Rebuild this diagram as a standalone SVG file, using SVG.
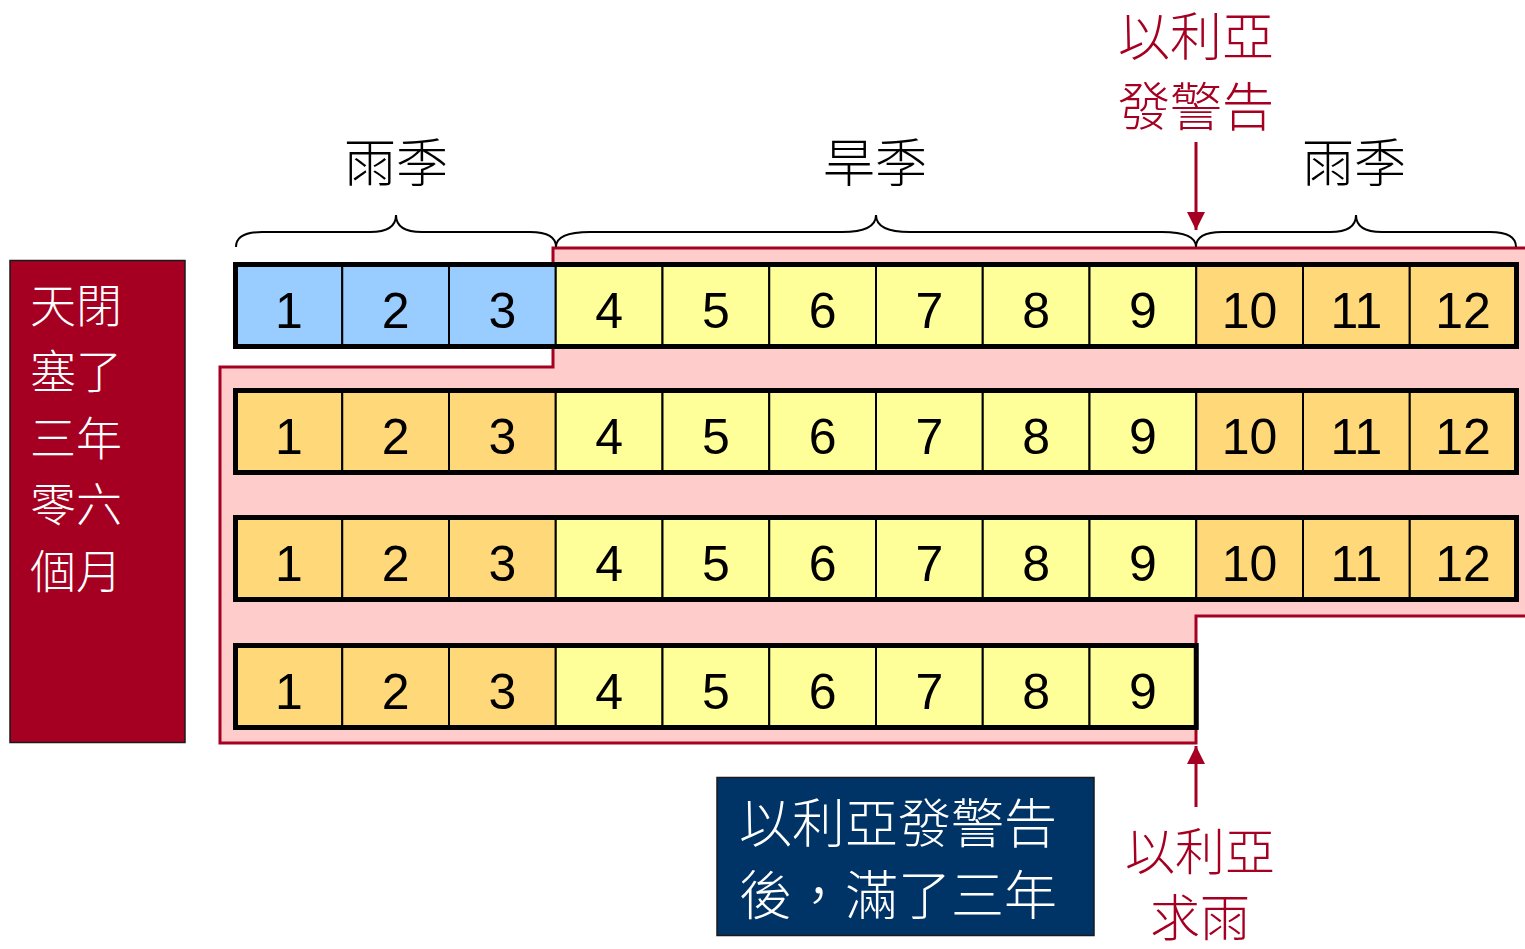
<svg xmlns="http://www.w3.org/2000/svg" width="1525" height="949" viewBox="0 0 1525 949">
<style>
.cjk{font-family:"Noto Sans CJK TC","Noto Sans CJK SC",sans-serif;font-weight:300}
.num{font-family:"Liberation Sans","DejaVu Sans",sans-serif;font-size:50px;fill:#000;text-anchor:middle}
.b{fill:#99CCFF;stroke:#000;stroke-width:2}
.y{fill:#FFFF99;stroke:#000;stroke-width:2}
.o{fill:#FFD87A;stroke:#000;stroke-width:2}
.frame{fill:none;stroke:#000;stroke-width:5}
.brace{fill:none;stroke:#000;stroke-width:2}
.red{fill:#A50021}
.arr{stroke:#A50021;stroke-width:3;fill:none}
</style>
<defs>
<marker id="ah" viewBox="0 0 10 10" refX="10" refY="5" markerWidth="6" markerHeight="6" markerUnits="strokeWidth" orient="auto">
<path d="M0,0 L10,5 L0,10 Z" fill="#A50021"/>
</marker>
</defs>
<rect width="1525" height="949" fill="#fff"/>

<g id="period">
<path d="M553,248 L1528,248 L1528,616 L1196,616 L1196,743 L220,743 L220,367 L553,367 Z" fill="#FFCCCC" stroke="#A50021" stroke-width="3"/>
</g>

<g id="braces">
<path class="brace" d="M236,247 Q236,232 262,232 L370,232 Q396,232 396,215 Q396,232 422,232 L530,232 Q556,232 556,247"/>
<path class="brace" d="M556,247 Q556,232 590,232 L842,232 Q876,232 876,215 Q876,232 910,232 L1162,232 Q1196,232 1196,247"/>
<path class="brace" d="M1196,247 Q1196,232 1222,232 L1330,232 Q1356,232 1356,215 Q1356,232 1382,232 L1490,232 Q1516,232 1516,247"/>
</g>

<g id="labels-top">
<text class="cjk" x="396" y="182" font-size="52" text-anchor="middle">雨季</text>
<text class="cjk" x="875" y="182" font-size="52" text-anchor="middle">旱季</text>
<text class="cjk" x="1354" y="182" font-size="52" text-anchor="middle">雨季</text>
</g>

<g id="row1">
<g id="r1c1"><rect class="b" x="235.5" y="264.5" width="106.75" height="82"/><text class="num" x="288.9" y="328">1</text></g>
<g id="r1c2"><rect class="b" x="342.25" y="264.5" width="106.75" height="82"/><text class="num" x="395.6" y="328">2</text></g>
<g id="r1c3"><rect class="b" x="449" y="264.5" width="106.75" height="82"/><text class="num" x="502.4" y="328">3</text></g>
<g id="r1c4"><rect class="y" x="555.75" y="264.5" width="106.75" height="82"/><text class="num" x="609.1" y="328">4</text></g>
<g id="r1c5"><rect class="y" x="662.5" y="264.5" width="106.75" height="82"/><text class="num" x="715.9" y="328">5</text></g>
<g id="r1c6"><rect class="y" x="769.25" y="264.5" width="106.75" height="82"/><text class="num" x="822.6" y="328">6</text></g>
<g id="r1c7"><rect class="y" x="876" y="264.5" width="106.75" height="82"/><text class="num" x="929.4" y="328">7</text></g>
<g id="r1c8"><rect class="y" x="982.75" y="264.5" width="106.75" height="82"/><text class="num" x="1036.1" y="328">8</text></g>
<g id="r1c9"><rect class="y" x="1089.5" y="264.5" width="106.75" height="82"/><text class="num" x="1142.9" y="328">9</text></g>
<g id="r1c10"><rect class="o" x="1196.25" y="264.5" width="106.75" height="82"/><text class="num" x="1249.6" y="328">10</text></g>
<g id="r1c11"><rect class="o" x="1303" y="264.5" width="106.75" height="82"/><text class="num" x="1356.4" y="328">11</text></g>
<g id="r1c12"><rect class="o" x="1409.75" y="264.5" width="106.75" height="82"/><text class="num" x="1463.1" y="328">12</text></g>
<rect class="frame" x="235.5" y="264.5" width="1281" height="82"/>
</g>

<g id="row2">
<g id="r2c1"><rect class="o" x="235.5" y="390.5" width="106.75" height="82"/><text class="num" x="288.9" y="454">1</text></g>
<g id="r2c2"><rect class="o" x="342.25" y="390.5" width="106.75" height="82"/><text class="num" x="395.6" y="454">2</text></g>
<g id="r2c3"><rect class="o" x="449" y="390.5" width="106.75" height="82"/><text class="num" x="502.4" y="454">3</text></g>
<g id="r2c4"><rect class="y" x="555.75" y="390.5" width="106.75" height="82"/><text class="num" x="609.1" y="454">4</text></g>
<g id="r2c5"><rect class="y" x="662.5" y="390.5" width="106.75" height="82"/><text class="num" x="715.9" y="454">5</text></g>
<g id="r2c6"><rect class="y" x="769.25" y="390.5" width="106.75" height="82"/><text class="num" x="822.6" y="454">6</text></g>
<g id="r2c7"><rect class="y" x="876" y="390.5" width="106.75" height="82"/><text class="num" x="929.4" y="454">7</text></g>
<g id="r2c8"><rect class="y" x="982.75" y="390.5" width="106.75" height="82"/><text class="num" x="1036.1" y="454">8</text></g>
<g id="r2c9"><rect class="y" x="1089.5" y="390.5" width="106.75" height="82"/><text class="num" x="1142.9" y="454">9</text></g>
<g id="r2c10"><rect class="o" x="1196.25" y="390.5" width="106.75" height="82"/><text class="num" x="1249.6" y="454">10</text></g>
<g id="r2c11"><rect class="o" x="1303" y="390.5" width="106.75" height="82"/><text class="num" x="1356.4" y="454">11</text></g>
<g id="r2c12"><rect class="o" x="1409.75" y="390.5" width="106.75" height="82"/><text class="num" x="1463.1" y="454">12</text></g>
<rect class="frame" x="235.5" y="390.5" width="1281" height="82"/>
</g>

<g id="row3">
<g id="r3c1"><rect class="o" x="235.5" y="517.5" width="106.75" height="82"/><text class="num" x="288.9" y="581">1</text></g>
<g id="r3c2"><rect class="o" x="342.25" y="517.5" width="106.75" height="82"/><text class="num" x="395.6" y="581">2</text></g>
<g id="r3c3"><rect class="o" x="449" y="517.5" width="106.75" height="82"/><text class="num" x="502.4" y="581">3</text></g>
<g id="r3c4"><rect class="y" x="555.75" y="517.5" width="106.75" height="82"/><text class="num" x="609.1" y="581">4</text></g>
<g id="r3c5"><rect class="y" x="662.5" y="517.5" width="106.75" height="82"/><text class="num" x="715.9" y="581">5</text></g>
<g id="r3c6"><rect class="y" x="769.25" y="517.5" width="106.75" height="82"/><text class="num" x="822.6" y="581">6</text></g>
<g id="r3c7"><rect class="y" x="876" y="517.5" width="106.75" height="82"/><text class="num" x="929.4" y="581">7</text></g>
<g id="r3c8"><rect class="y" x="982.75" y="517.5" width="106.75" height="82"/><text class="num" x="1036.1" y="581">8</text></g>
<g id="r3c9"><rect class="y" x="1089.5" y="517.5" width="106.75" height="82"/><text class="num" x="1142.9" y="581">9</text></g>
<g id="r3c10"><rect class="o" x="1196.25" y="517.5" width="106.75" height="82"/><text class="num" x="1249.6" y="581">10</text></g>
<g id="r3c11"><rect class="o" x="1303" y="517.5" width="106.75" height="82"/><text class="num" x="1356.4" y="581">11</text></g>
<g id="r3c12"><rect class="o" x="1409.75" y="517.5" width="106.75" height="82"/><text class="num" x="1463.1" y="581">12</text></g>
<rect class="frame" x="235.5" y="517.5" width="1281" height="82"/>
</g>

<g id="row4">
<g id="r4c1"><rect class="o" x="235.5" y="645.5" width="106.75" height="82"/><text class="num" x="288.9" y="709">1</text></g>
<g id="r4c2"><rect class="o" x="342.25" y="645.5" width="106.75" height="82"/><text class="num" x="395.6" y="709">2</text></g>
<g id="r4c3"><rect class="o" x="449" y="645.5" width="106.75" height="82"/><text class="num" x="502.4" y="709">3</text></g>
<g id="r4c4"><rect class="y" x="555.75" y="645.5" width="106.75" height="82"/><text class="num" x="609.1" y="709">4</text></g>
<g id="r4c5"><rect class="y" x="662.5" y="645.5" width="106.75" height="82"/><text class="num" x="715.9" y="709">5</text></g>
<g id="r4c6"><rect class="y" x="769.25" y="645.5" width="106.75" height="82"/><text class="num" x="822.6" y="709">6</text></g>
<g id="r4c7"><rect class="y" x="876" y="645.5" width="106.75" height="82"/><text class="num" x="929.4" y="709">7</text></g>
<g id="r4c8"><rect class="y" x="982.75" y="645.5" width="106.75" height="82"/><text class="num" x="1036.1" y="709">8</text></g>
<g id="r4c9"><rect class="y" x="1089.5" y="645.5" width="106.75" height="82"/><text class="num" x="1142.9" y="709">9</text></g>
<rect class="frame" x="235.5" y="645.5" width="960.75" height="82"/>
</g>

<g id="left-box">
<rect x="10" y="260.5" width="175" height="482" fill="#A50021" stroke="#1a1a1a" stroke-width="1.5"/>
<text class="cjk" font-size="46" fill="#fff" x="30">
<tspan x="30" y="322">天閉</tspan>
<tspan x="30" y="388">塞了</tspan>
<tspan x="30" y="455">三年</tspan>
<tspan x="30" y="521">零六</tspan>
<tspan x="30" y="588">個月</tspan>
</text>
</g>

<g id="warning-label">
<text class="cjk red" font-size="52" text-anchor="middle" x="1196"><tspan x="1196" y="56">以利亞</tspan><tspan x="1196" y="126">發警告</tspan></text>
</g>

<g id="rain-label">
<text class="cjk red" font-size="50" text-anchor="middle" x="1200"><tspan x="1200" y="870">以利亞</tspan><tspan x="1200" y="936">求雨</tspan></text>
</g>

<g id="note-box">
<rect x="717" y="777.5" width="377" height="158" fill="#003366" stroke="#1a1a1a" stroke-width="1.5"/>
<text class="cjk" font-size="53" fill="#fff"><tspan x="739" y="843">以利亞發警告</tspan><tspan x="739" y="915">後，滿了三年</tspan></text>
</g>

<g id="connectors">
<line class="arr" x1="1196" y1="142" x2="1196" y2="230" marker-end="url(#ah)"/>
<line class="arr" x1="1196" y1="807" x2="1196" y2="746" marker-end="url(#ah)"/>
</g>
</svg>
